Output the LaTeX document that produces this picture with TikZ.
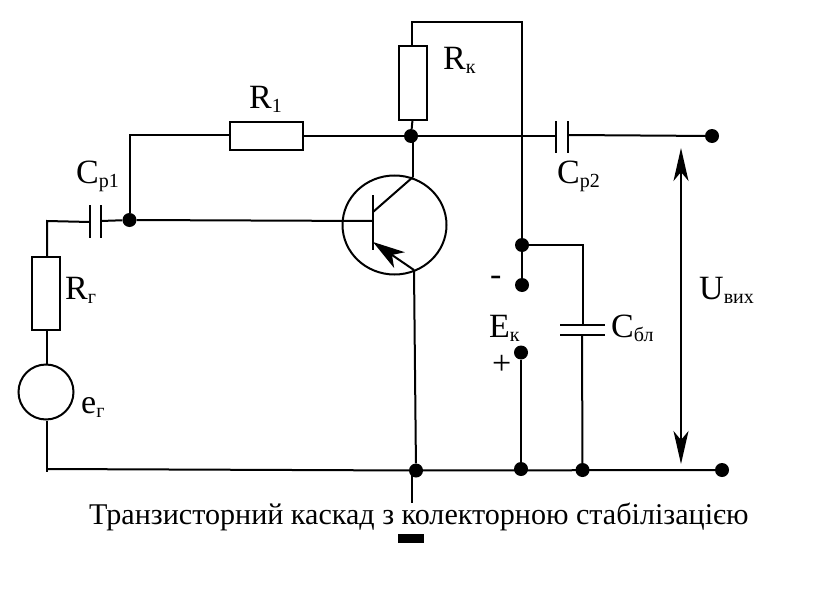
\documentclass[tikz,border=0pt]{standalone}
\usepackage{fontspec}
\setmainfont{Liberation Serif}
\usetikzlibrary{arrows.meta,shapes.geometric}
\newcommand{\lowtext}[1]{\raisebox{-4pt}{\fontsize{20}{20}\selectfont #1}}
\tikzset{
    wire/.style={line width=2pt},
    resistor/.style={draw,line width=2pt,inner sep=0pt,outer sep=0pt,minimum width=#1},
    dot/.style={circle,fill=black,inner sep=0pt,minimum size=14pt},
    lbl/.style={anchor=base west,inner sep=0pt,font=\fontsize{34}{34}\selectfont}
}
\begin{document}
\begin{tikzpicture}[x=1pt,y=-1pt]
    \useasboundingbox (0,0) rectangle (830,602);

    % Elements
    \node[resistor=28pt,minimum height=74pt] (rk) at (412.5,83) {};
    \node[resistor=73pt,minimum height=28pt] (r1) at (266.5,136) {};
    \node[resistor=28pt,minimum height=73pt] (rg) at (45.5,293.5) {};
    \node[draw,line width=2pt,circle,minimum size=55pt,inner sep=0pt] (eg) at (46,392) {};
    \node[draw,line width=2pt,ellipse,minimum width=104pt,minimum height=99pt,inner sep=0pt] (vt) at (394.5,225) {};

    % Junctions and terminals
    \node[dot] (jc) at (411,136) {};
    \node[dot] (out1) at (712,136) {};
    \node[dot] (jb) at (129.5,220) {};
    \node[dot] (jtop) at (522,245) {};
    \node[dot] (minus) at (522,285) {};
    \node[dot] (plus) at (521,352.5) {};
    \node[dot] (je) at (416,470.5) {};
    \node[dot] (jp) at (521,469) {};
    \node[dot] (jbl) at (582.5,470) {};
    \node[dot] (out2) at (722,470) {};

    % Points on wires
    \coordinate (t1) at (412,22);
    \coordinate (t2) at (522,22);
    \coordinate (rkt) at (412,46);
    \coordinate (lt) at (129.5,135);
    \coordinate (c2a) at (556,136);
    \coordinate (c2b) at (569,135);
    \coordinate (c1a) at (90,222);
    \coordinate (c1b) at (101,221);
    \coordinate (cor) at (47,221);
    \coordinate (gb) at (47,472);
    \coordinate (gl) at (47,469);
    \coordinate (stub) at (412,470);
    \coordinate (stube) at (412,503);
    \coordinate (base) at (373,221);
    \coordinate (bt) at (373,195);
    \coordinate (bb) at (373,250);
    \coordinate (cin) at (373,212);
    \coordinate (cout) at (413,177);
    \coordinate (ein) at (373,242);
    \coordinate (eout) at (414,270);
    \coordinate (ctop) at (583,245);
    \coordinate (cbu) at (583,325);
    \coordinate (cbl) at (582,335);
    \coordinate (ua) at (681,148);
    \coordinate (ub) at (681,464);

    % Capacitor plates
    \draw[wire] (556,121) -- (556,153);
    \draw[wire] (568,121) -- (568,153);
    \draw[wire] (90,205) -- (90,238);
    \draw[wire] (101,205) -- (101,238);
    \draw[wire] (560,325) -- (605,325);
    \draw[wire] (560,335) -- (605,335);

    % Wires
    \draw[wire] (rkt) -- (t1) -- (t2) -- (jtop);
    \draw[wire] (rk.south) -- (jc);
    \draw[wire] (jb) -- (lt) -- (r1.west |- lt);
    \draw[wire] (r1.east) -- (jc) -- (c2a);
    \draw[wire] (c2b) -- (out1);
    \draw[wire] (jc -| cout) -- (cout);
    \draw[wire] (c1b) -- (jb) -- (base);
    \draw[wire] (c1a) -- (cor) -- (rg.north -| cor);
    \draw[wire] (rg.south -| cor) -- (eg.north -| cor);
    \draw[wire] (eg.south -| cor) -- (gb);
    \draw[wire] (gl) -- (je) -- (out2);
    \draw[wire] (stub) -- (stube);
    \draw[wire] (jtop) -- (minus);
    \draw[wire] (plus) -- (jp);
    \draw[wire] (jtop) -- (ctop) -- (cbu);
    \draw[wire] (cbl) -- (jbl);

    % Transistor
    \draw[wire] (bt) -- (bb);
    \draw[wire] (cin) -- (cout);
    \draw[wire] (eout) -- (je);
    \draw[wire,-{Stealth[length=32pt,width=19pt,inset=9pt]}] (eout) -- (ein);

    % Output voltage
    \draw[wire,{Stealth[length=33pt,width=15pt,inset=9pt]}-{Stealth[length=33pt,width=15pt,inset=9pt]}] (ua) -- (ub);

    % Ground bar
    \node[fill=black,inner sep=0pt,minimum width=26pt,minimum height=9pt] (bar) at (411,538.5) {};

    % Labels
    \node[lbl] (lrk) at (443,70) {R\lowtext{к}};
    \node[lbl] (lr1) at (249,108) {R\lowtext{1}};
    \node[lbl] (lc1) at (76,183) {C\lowtext{р1}};
    \node[lbl] (lc2) at (557,183) {C\lowtext{р2}};
    \node[lbl] (lrg) at (65,299) {R\lowtext{г}};
    \node[lbl] (leg) at (81,413) {e\lowtext{г}};
    \node[lbl] (lek) at (489,337) {E\lowtext{к}};
    \node[lbl] (lcb) at (611,337) {C\lowtext{бл}};
    \node[lbl] (lu) at (699,299) {U\lowtext{вих}};
    \node[lbl] (lm) at (490,285) {-};
    \node[lbl] (lp) at (492,374) {+};
    \node[lbl,font=\fontsize{30.1}{30}\selectfont] (title) at (89,524) {Транзисторний каскад з колекторною стабілізацією};
\end{tikzpicture}
\end{document}
